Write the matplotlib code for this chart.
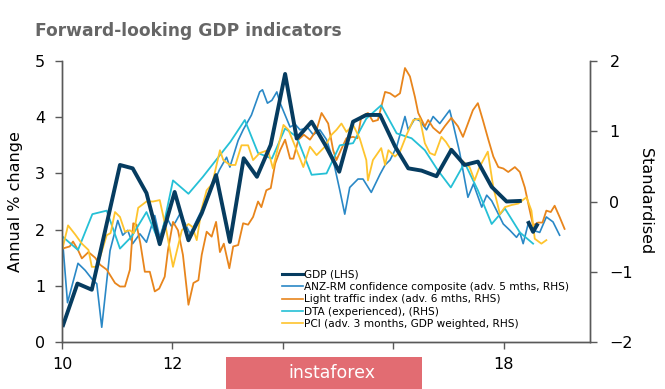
import numpy as np
import matplotlib
matplotlib.use('Agg')
import matplotlib.pyplot as plt
from matplotlib.patches import Rectangle

plt.rcParams['font.family'] = ['DejaVu Sans']

# GDP (LHS), quarterly, annual % change; NaN splits the last short segment
gdp_x = [10.02, 10.28, 10.54, 11.05, 11.28, 11.53, 11.77, 12.04, 12.29, 12.53, 12.79, 13.04,
         13.29, 13.53, 13.78, 14.04, 14.25, 14.52, 14.77, 15.02, 15.27, 15.51, 15.76, 16.03,
         16.27, 16.51, 16.78, 17.05, 17.29, 17.53, 17.78, 18.05, 18.29, 18.37, 18.45, 18.53, 18.60]
gdp_y = [0.30, 1.04, 0.93, 3.15, 3.09, 2.65, 1.74, 2.67, 1.81, 2.29, 2.97, 1.78,
         3.27, 2.94, 3.51, 4.77, 3.62, 3.92, 3.50, 3.03, 3.92, 4.04, 4.04, 3.48,
         3.09, 3.05, 2.95, 3.42, 3.15, 3.21, 2.76, 2.50, 2.51, np.nan, 2.12, 1.96, 2.08]

# ANZ-RM confidence composite (RHS, standardised)
anz_x = [10.00, 10.10, 10.29, 10.42, 10.56, 10.63, 10.72, 10.87, 11.01, 11.10, 11.19, 11.28,
         11.41, 11.53, 11.68, 11.77, 11.89, 11.98, 12.05, 12.14, 12.32, 12.50, 12.71, 12.85,
         12.98, 13.04, 13.19, 13.28, 13.43, 13.58, 13.63, 13.72, 13.80, 13.89, 13.95, 14.04,
         14.13, 14.22, 14.31, 14.45, 14.55, 14.67, 14.79, 14.91, 15.03, 15.12, 15.21, 15.36,
         15.45, 15.60, 15.76, 15.85, 15.94, 16.06, 16.21, 16.27, 16.39, 16.48, 16.60, 16.72,
         16.84, 17.02, 17.08, 17.20, 17.35, 17.45, 17.60, 17.69, 17.78, 17.87, 17.99, 18.11,
         18.23, 18.29, 18.35, 18.44, 18.53, 18.65, 18.77, 18.89, 19.01]
anz_y = [-0.45, -1.44, -0.88, -0.98, -1.12, -1.17, -1.79, -0.70, -0.27, -0.48, -0.41, -0.60,
         -0.46, -0.58, -0.20, -0.51, -0.22, -0.35, -0.30, -0.17, -0.46, -0.17, 0.20, 0.45,
         0.63, 0.49, 0.87, 1.02, 1.23, 1.56, 1.59, 1.40, 1.44, 1.56, 1.40, 1.23,
         1.06, 1.10, 1.02, 1.05, 0.95, 1.02, 0.88, 0.59, 0.16, -0.18, 0.20, 0.32,
         0.32, 0.13, 0.39, 0.52, 0.59, 0.78, 1.21, 1.02, 1.18, 1.15, 1.02, 1.21,
         1.11, 1.30, 1.11, 0.70, 0.06, 0.25, -0.08, 0.09, 0.01, -0.13, -0.32, -0.41,
         -0.51, -0.44, -0.60, -0.32, -0.41, -0.44, -0.22, -0.29, -0.48]

# Light traffic index (RHS)
lti_x = [10.01, 10.14, 10.20, 10.29, 10.36, 10.48, 10.60, 10.69, 10.81, 10.96, 11.05, 11.14,
         11.23, 11.29, 11.35, 11.42, 11.50, 11.59, 11.68, 11.76, 11.86, 11.92, 12.01, 12.10,
         12.19, 12.29, 12.38, 12.47, 12.53, 12.62, 12.71, 12.79, 12.86, 12.93, 13.03, 13.10,
         13.19, 13.28, 13.37, 13.46, 13.55, 13.61, 13.70, 13.78, 13.86, 13.95, 14.04, 14.13,
         14.19, 14.28, 14.38, 14.49, 14.61, 14.70, 14.82, 14.91, 14.97, 15.06, 15.15, 15.27,
         15.35, 15.42, 15.54, 15.63, 15.72, 15.85, 15.94, 16.03, 16.12, 16.21, 16.30, 16.39,
         16.45, 16.57, 16.63, 16.72, 16.84, 16.93, 17.05, 17.17, 17.26, 17.35, 17.44, 17.53,
         17.62, 17.72, 17.81, 17.90, 17.99, 18.08, 18.20, 18.29, 18.38, 18.47, 18.53, 18.62,
         18.70, 18.77, 18.85, 18.92, 19.01, 19.10]
lti_y = [-0.67, -0.64, -0.57, -0.69, -0.81, -0.72, -0.80, -0.90, -0.97, -1.16, -1.21, -1.21,
         -0.97, -0.31, -0.33, -0.60, -1.00, -1.00, -1.28, -1.24, -1.07, -0.69, -0.29, -0.41,
         -0.76, -1.47, -1.16, -1.12, -0.76, -0.43, -0.50, -0.29, -0.72, -0.60, -0.95, -0.64,
         -0.62, -0.31, -0.33, -0.22, 0.00, -0.08, 0.16, 0.19, 0.54, 0.73, 0.88, 0.61,
         0.61, 0.88, 0.95, 0.88, 1.02, 1.26, 1.11, 0.73, 0.59, 0.75, 0.90, 0.92,
         0.90, 1.21, 1.26, 1.14, 1.16, 1.56, 1.54, 1.49, 1.54, 1.90, 1.78, 1.49,
         1.26, 1.07, 1.16, 1.05, 0.97, 1.07, 1.19, 1.07, 0.92, 1.11, 1.30, 1.40,
         1.16, 0.88, 0.64, 0.49, 0.47, 0.42, 0.49, 0.42, 0.20, -0.13, -0.34, -0.30,
         -0.30, -0.13, -0.15, -0.06, -0.22, -0.39]

# DTA (experienced) (RHS)
dta_x = [10.01, 10.29, 10.55, 10.81, 11.05, 11.26, 11.53, 11.77, 12.01, 12.29, 12.55, 12.79,
         13.05, 13.31, 13.55, 13.80, 14.04, 14.25, 14.52, 14.79, 15.03, 15.27, 15.51, 15.78,
         16.06, 16.33, 16.57, 16.80, 17.04, 17.29, 17.53, 17.78, 18.02, 18.29, 18.53]
dta_y = [-0.50, -0.69, -0.18, -0.13, -0.67, -0.50, -0.15, -0.60, 0.30, 0.11, 0.35, 0.59,
         0.85, 1.16, 0.69, 0.61, 1.04, 0.92, 0.38, 0.40, 0.80, 0.83, 1.18, 1.37,
         0.97, 0.90, 0.73, 0.45, 0.20, 0.55, 0.16, -0.32, -0.10, -0.44, -0.60]

# PCI (RHS)
pci_x = [10.01, 10.11, 10.24, 10.36, 10.48, 10.54, 10.62, 10.69, 10.81, 10.88, 10.96, 11.05,
         11.14, 11.23, 11.30, 11.38, 11.53, 11.65, 11.77, 11.89, 12.01, 12.17, 12.29, 12.36,
         12.44, 12.53, 12.62, 12.72, 12.86, 12.92, 13.04, 13.14, 13.25, 13.37, 13.46, 13.58,
         13.73, 13.82, 14.01, 14.10, 14.25, 14.37, 14.49, 14.61, 14.76, 14.88, 14.97, 15.06,
         15.15, 15.27, 15.39, 15.51, 15.54, 15.63, 15.78, 15.85, 15.91, 16.03, 16.12, 16.24,
         16.36, 16.48, 16.57, 16.66, 16.75, 16.87, 16.95, 17.08, 17.23, 17.38, 17.47, 17.56,
         17.71, 17.81, 17.93, 18.02, 18.14, 18.26, 18.41, 18.50, 18.56, 18.68, 18.77]
pci_y = [-0.67, -0.34, -0.47, -0.60, -0.69, -0.93, -0.93, -0.79, -0.48, -0.45, -0.15, -0.22,
         -0.43, -0.41, -0.45, -0.09, 0.00, 0.00, 0.02, -0.41, -0.93, -0.41, -0.32, -0.36,
         -0.55, -0.10, 0.16, 0.25, 0.73, 0.59, 0.52, 0.52, 0.80, 0.80, 0.59, 0.69,
         0.73, 0.47, 1.09, 1.02, 0.73, 0.49, 0.78, 0.66, 0.78, 0.95, 1.02, 1.11,
         0.99, 1.09, 0.90, 0.59, 0.30, 0.59, 0.76, 0.52, 0.73, 0.64, 0.71, 0.95,
         1.16, 1.18, 0.83, 0.69, 0.66, 0.92, 0.85, 0.69, 0.59, 0.49, 0.30, 0.49,
         0.71, 0.20, -0.18, -0.08, -0.05, -0.03, 0.06, -0.13, -0.53, -0.60, -0.55]

labels = ['GDP (LHS)',
          'ANZ-RM confidence composite (adv. 5 mths, RHS)',
          'Light traffic index (adv. 6 mths, RHS)',
          'DTA (experienced), (RHS)',
          'PCI (adv. 3 months, GDP weighted, RHS)']
colors = ['#063c60', '#2a88c6', '#e8851c', '#25c0d6', '#fec42e']

fig = plt.figure(figsize=(6.65, 3.89), dpi=100)
ax1 = fig.add_axes([0.0932, 0.1208, 0.7940, 0.7224])
ax2 = ax1.twinx()

l2, = ax2.plot(anz_x, anz_y, c=colors[1], lw=1.2)
l3, = ax2.plot(lti_x, lti_y, c=colors[2], lw=1.3)
l4, = ax2.plot(dta_x, dta_y, c=colors[3], lw=1.3)
l5, = ax2.plot(pci_x, pci_y, c=colors[4], lw=1.3)
# GDP drawn on top
ax1.set_zorder(ax2.get_zorder() + 1)
ax1.patch.set_visible(False)
l1, = ax1.plot(gdp_x, gdp_y, c=colors[0], lw=2.8)

ax1.set_xlim(10, 19.56)
ax1.set_ylim(0, 5)
ax2.set_ylim(-2, 2)
ax1.set_xticks([10, 12, 14, 16, 18])
ax1.set_yticks([0, 1, 2, 3, 4, 5])
ax2.set_yticks([-2, -1, 0, 1, 2])

spine_c = '#595959'
for a in (ax1, ax2):
    a.spines['top'].set_visible(False)
    for s in ('left', 'right', 'bottom'):
        a.spines[s].set_color(spine_c)
        a.spines[s].set_linewidth(1.0)
    a.tick_params(colors=spine_c, labelcolor='black', labelsize=11.5, length=5, width=1.0)
ax1.tick_params(axis='y', pad=7)
ax2.tick_params(axis='y', pad=9)
ax1.tick_params(axis='x', pad=6)

ax1.set_ylabel('Annual % change', fontsize=11.5, labelpad=9)
ax2.set_ylabel('Standardised', fontsize=11.5, rotation=-90, labelpad=14)

fig.text(0.052, 0.92, 'Forward-looking GDP indicators', fontsize=12.3, fontweight='bold',
         color='#666666', ha='left', va='center')

leg = ax1.legend([l1, l2, l3, l4, l5], labels, loc='upper left',
                 bbox_to_anchor=(0.413, 0.265), frameon=False, fontsize=7.6,
                 handlelength=2.0, handletextpad=0.1, labelspacing=0.22,
                 borderpad=0.2, borderaxespad=0)
for h in leg.get_lines()[1:]:
    h.set_linewidth(1.2)
leg.get_lines()[0].set_linewidth(2.2)

# watermark box at bottom
fig.patches.append(Rectangle((226 / 665, 0), 196 / 665, 32 / 389, transform=fig.transFigure,
                             facecolor='#e26c72', edgecolor='none', zorder=10))
fig.text(332 / 665, 16 / 389, 'instaforex', color='white', fontsize=12.5,
         ha='center', va='center', zorder=11)

fig.savefig('out.png', dpi=100)
